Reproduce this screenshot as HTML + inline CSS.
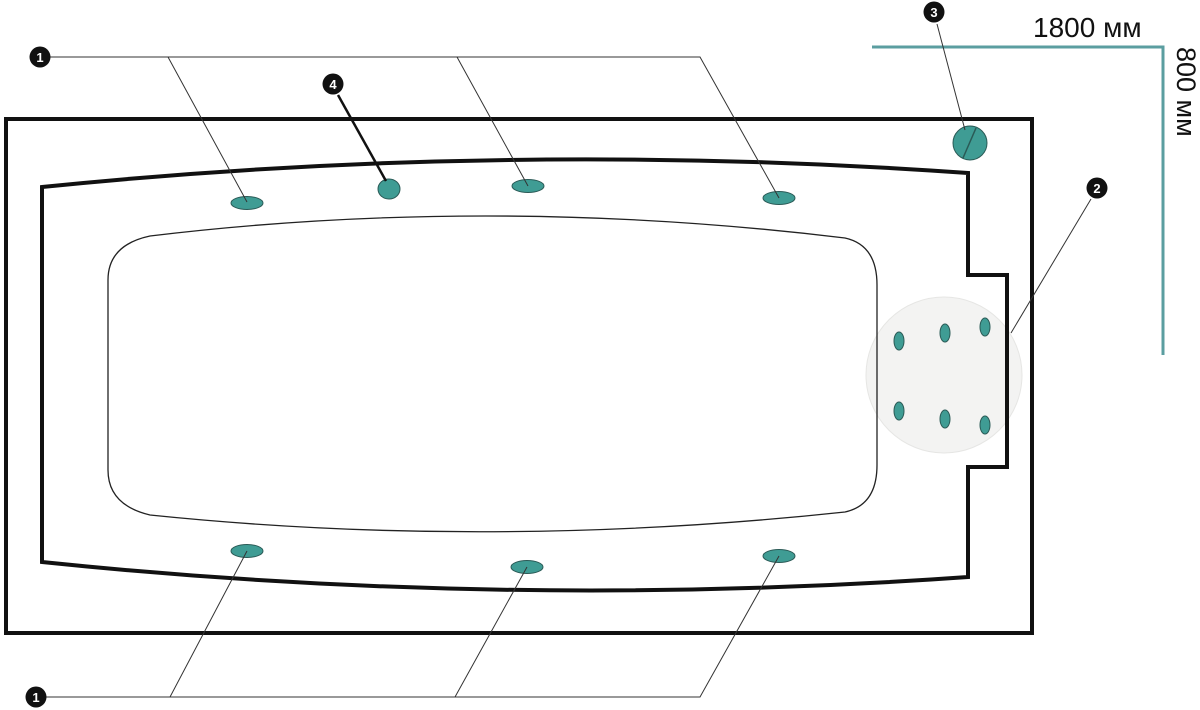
<!DOCTYPE html>
<html><head><meta charset="utf-8"><style>
html,body{margin:0;padding:0;background:#fff;width:1200px;height:710px;overflow:hidden}
svg{display:block}
</style></head><body>
<svg width="1200" height="710" viewBox="0 0 1200 710" xmlns="http://www.w3.org/2000/svg">
<path d="M872 47 H1163 V355" fill="none" stroke="#5b9ea0" stroke-width="3"/>
<text x="1033" y="37" font-family="Liberation Sans, sans-serif" font-size="28" fill="#111">1800 мм</text>
<text transform="translate(1177,47) rotate(90)" font-family="Liberation Sans, sans-serif" font-size="27" fill="#111">800 мм</text>
<rect x="6" y="119" width="1026" height="514" fill="#fff" stroke="#111" stroke-width="4"/>
<circle cx="944" cy="375" r="78" fill="#f3f3f2" stroke="#e6e6e4" stroke-width="1"/>
<path d="M42 187 Q505 140 968 173 V275 H1007 V467 H968 V577 Q505 610 42 562 Z" fill="none" stroke="#111" stroke-width="4"/>
<path d="M150 236 Q490 195 845 238 Q877 245 877 285 V465 Q877 505 845 512 Q490 550 150 515 Q108 505 108 470 V280 Q108 245 150 236 Z" fill="none" stroke="#222" stroke-width="1.3"/>
<g fill="#3f9c94" stroke="#2a5a56" stroke-width="1">
<ellipse cx="247" cy="203" rx="16" ry="6.5"/>
<ellipse cx="389" cy="189" rx="11" ry="10"/>
<ellipse cx="528" cy="186" rx="16" ry="6.5"/>
<ellipse cx="779" cy="198" rx="16" ry="6.5"/>
<ellipse cx="247" cy="551" rx="16" ry="6.5"/>
<ellipse cx="527" cy="567" rx="16" ry="6.5"/>
<ellipse cx="779" cy="556" rx="16" ry="6.5"/>
<ellipse cx="899" cy="341" rx="5" ry="9"/>
<ellipse cx="945" cy="333" rx="5" ry="9"/>
<ellipse cx="985" cy="327" rx="5" ry="9"/>
<ellipse cx="899" cy="411" rx="5" ry="9"/>
<ellipse cx="945" cy="419" rx="5" ry="9"/>
<ellipse cx="985" cy="425" rx="5" ry="9"/>
<circle cx="970" cy="143" r="17"/>
</g>
<line x1="963" y1="158" x2="976" y2="128" stroke="#2a5a56" stroke-width="1.5"/>
<g stroke="#333" stroke-width="1" fill="none">
<path d="M50 57 H700 L779 198 M168 57 L247 202 M457 57 L528 186"/>
<path d="M46 697 H700 L779 556 M170 697 L247 551 M455 697 L527 567"/>
<path d="M937 24 L965 130"/>
<path d="M1091 199 L1011 333"/>
</g>
<line x1="338" y1="95" x2="386" y2="181" stroke="#111" stroke-width="2.5"/>
<g font-family="Liberation Sans, sans-serif" font-size="13" font-weight="bold" fill="#fff" text-anchor="middle">
<circle cx="40" cy="57" r="10.5" fill="#111"/><text x="40" y="62">1</text>
<circle cx="333" cy="84" r="10.5" fill="#111"/><text x="333" y="89">4</text>
<circle cx="934" cy="12" r="10.5" fill="#111"/><text x="934" y="17">3</text>
<circle cx="1097" cy="188" r="10.5" fill="#111"/><text x="1097" y="193">2</text>
<circle cx="36" cy="697" r="10.5" fill="#111"/><text x="36" y="702">1</text>
</g>
</svg>
</body></html>
